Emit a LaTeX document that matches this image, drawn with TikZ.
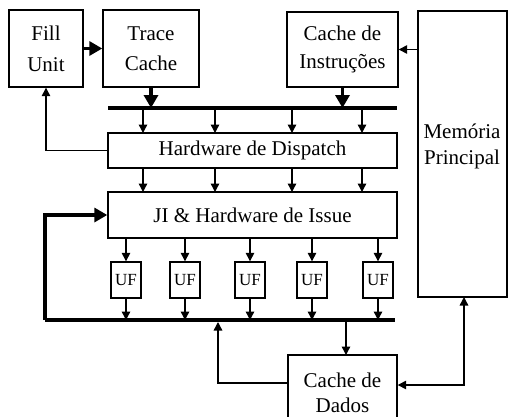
\documentclass[tikz,border=0pt]{standalone}
\usepackage{fontspec}
\setmainfont{Liberation Serif}
\usetikzlibrary{arrows.meta}
\begin{document}
\begin{tikzpicture}[x=1pt,y=-1pt,
  box/.style={draw,line width=1.4pt,inner sep=0pt,align=center,font=\fontsize{21}{28}\selectfont},
  ufbox/.style={draw,line width=1.4pt,inner sep=0pt,minimum width=30pt,minimum height=36pt,font=\fontsize{17}{20}\selectfont},
  thin/.style={line width=1.4pt,-{Triangle[length=8.5pt,width=8.5pt]}},
  thick/.style={line width=3.4pt,-{Triangle[length=13pt,width=14pt]}},
  bus/.style={line width=4.5pt}]
\useasboundingbox (0,0) rectangle (509,416);
% boxes
\node[box,minimum width=74pt,minimum height=77pt,font=\fontsize{21}{31}\selectfont] (fill) at (46,48.5) {Fill\\Unit};
\node[box,minimum width=96pt,minimum height=77pt,font=\fontsize{21}{30}\selectfont] (trace) at (151,48.5) {Trace\\Cache};
\node[box,minimum width=111pt,minimum height=75pt] (ci) at (342.5,49.5) {Cache de\\Instruções};
\node[box,minimum width=89pt,minimum height=286pt] (mem) at (462.5,154) {};
\node[align=center,inner sep=0pt,font=\fontsize{21}{26}\selectfont] (memtxt) at (462,146) {Memória\\Principal};
\node[box,minimum width=289pt,minimum height=35pt] (disp) at (252.5,150.5) {Hardware de Dispatch};
\node[box,minimum width=289pt,minimum height=46pt] (ji) at (252.5,215) {JI \& Hardware de Issue};
\node[box,minimum width=109pt,minimum height=75pt,font=\fontsize{21}{25}\selectfont] (cd) at (342.5,392.5) {Cache de\\Dados};
\foreach \i/\x in {1/126,2/185,3/250,4/312,5/378}
  \node[ufbox] (uf\i) at (\x,280) {UF};
% buses
\coordinate (b1l) at (108,108);
\coordinate (b1r) at (397,108);
\coordinate (b2l) at (45,320);
\coordinate (b2r) at (395,320);
\draw[bus] (b1l) -- (b1r);
\draw[bus] (b2l) -- (b2r);
% top arrows
\draw[thick] (fill.east) -- (trace.west);
\draw[thick] (trace.south) -- (trace.south |- b1l);
\draw[thick] (ci.south) -- (ci.south |- b1l);
\draw[thin] (mem.west |- ci.east) -- (ci.east);
% bus to dispatch and dispatch to JI
\foreach \x in {143,215,292,362} {
  \draw[thin] (\x,110) -- (\x,133);
  \draw[thin] (\x,168) -- (\x,192);
}
\draw[thin] (disp.west) -| (fill.south);
% JI to UF, UF to bus
\foreach \i in {1,...,5} {
  \draw[thin] (uf\i.north |- ji.south) -- (uf\i.north);
  \draw[thin] (uf\i.south) -- (uf\i.south |- b2l);
}
% feedback
\draw[thick,line join=miter] (b2l) -- (45,215) -- (ji.west);
% data cache
\draw[thin] (cd.west |- 0,383) -| (218,322);
\draw[thin] (346,320) -- (346,355);
\draw[line width=1.4pt,{Triangle[length=8.5pt,width=8.5pt]}-{Triangle[length=8.5pt,width=8.5pt]}] (464,297) |- (cd.east |- 0,385);
\end{tikzpicture}
\end{document}
